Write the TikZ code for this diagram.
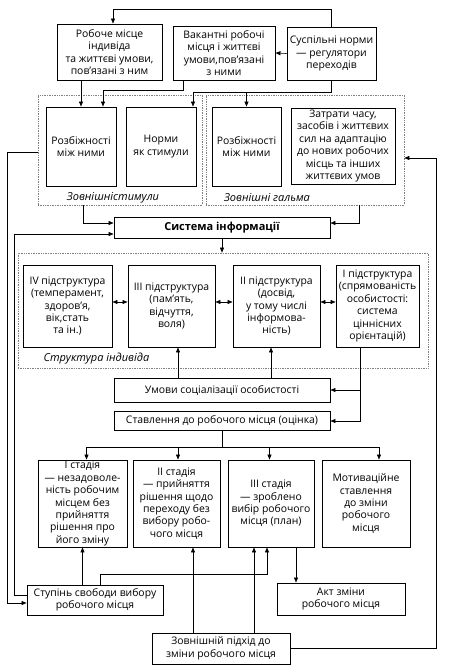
\documentclass[tikz,border=0pt]{standalone}
\usepackage{fontspec}
\setmainfont{Open Sans}
\usetikzlibrary{arrows.meta}

\begin{document}
\begin{tikzpicture}[x=1pt,y=-1pt,>={Triangle[length=5pt,width=4pt]},
                    font=\fontsize{10.4}{12.4}\selectfont,
                    blok/.style={draw,line width=0.9pt,align=center,inner sep=1pt},
                    grupa/.style={draw=black!50,densely dotted,line width=0.7pt,inner sep=0pt},
                    zv/.style={line width=0.6pt},
                    pidpys/.style={font=\fontsize{11}{12}\selectfont\itshape}]
                  \useasboundingbox (0,0) rectangle (450,665);

                  \node[grupa,minimum width=164pt,minimum height=110pt] (zstym) at (120,150) {};
                  \node[grupa,minimum width=198pt,minimum height=110pt] (zgalm) at (305,150) {};
                  \node[grupa,minimum width=410pt,minimum height=115pt] (strukt) at (223,310.5) {};
                  \node[pidpys] (zstymtxt) at (113,198) {Зовнішністимули};
                  \node[pidpys] (zgalmtxt) at (267,198) {Зовнішні гальма};
                  \node[pidpys,anchor=west] (strukttxt) at (40,359) {Структура індивіда};

                  \node[blok,minimum width=105pt,minimum height=56pt] (robmisce) at (109.5,52) {Робоче місце\\індивіда\\та життєві умови,\\пов’язані з ним};
                  \node[blok,minimum width=102pt,minimum height=54pt] (vakant) at (224,53) {Вакантні робочі\\місця і життєві\\умови,пов’язані\\з ними};
                  \node[blok,minimum width=89pt,minimum height=53pt] (norms) at (331.5,53.5) {Суспільні норми\\— регулятори\\переходів};

                  \node[blok,minimum width=70pt,minimum height=79pt] (rozb1) at (81,146.5) {Розбіжності\\між ними};
                  \node[blok,minimum width=70pt,minimum height=79pt] (normy) at (161,146.5) {Норми\\як стимули};
                  \node[blok,minimum width=69pt,minimum height=79pt] (rozb2) at (246.5,146.5) {Розбіжності\\між ними};
                  \node[blok,minimum width=104pt,minimum height=76pt] (zatraty) at (343,146) {Затрати часу,\\засобів і життєвих\\сил на адаптацію\\до нових робочих\\місць та інших\\життєвих умов};

                  \node[blok,minimum width=216pt,minimum height=21pt,font=\fontsize{11}{12.4}\selectfont\bfseries] (sysinf) at (222,227.5) {Система інформації};

                  \node[blok,minimum width=89pt,minimum height=82pt] (s4) at (67.5,306) {IV підструктура\\(темперамент,\\здоров’я,\\вік,стать\\та ін.)};
                  \node[blok,minimum width=87pt,minimum height=82pt] (s3) at (171.5,306) {III підструктура\\(пам’ять,\\відчуття,\\воля)};
                  \node[blok,minimum width=87pt,minimum height=82pt] (s2) at (276.5,306) {II підструктура\\(досвід,\\у тому числі\\інформова-\\ність)};
                  \node[blok,minimum width=83pt,minimum height=82pt] (s1) at (377.5,306) {I підструктура\\(спрямованість\\особистості:\\система\\ціннісних\\орієнтацій)};

                  \node[blok,minimum width=216pt,minimum height=24pt] (umovy) at (222,390) {Умови соціалізації особистості};
                  \node[blok,minimum width=216pt,minimum height=19pt] (stavl) at (222,421) {Ставлення до робочого місця (оцінка)};

                  \node[blok,minimum width=89pt,minimum height=87pt] (st1) at (82.5,503.5) {I стадія\\— незадоволе-\\ність робочим\\місцем без\\прийняття\\рішення про\\його зміну};
                  \node[blok,minimum width=87pt,minimum height=87pt] (st2) at (176.5,503.5) {II стадія\\— прийняття\\рішення щодо\\переходу без\\вибору робо-\\чого місця};
                  \node[blok,minimum width=86pt,minimum height=87pt] (st3) at (271,503.5) {III стадія\\— зроблено\\вибір робочого\\місця (план)};
                  \node[blok,minimum width=88pt,minimum height=87pt] (motiv) at (366,503.5) {Мотиваційне\\ставлення\\до зміни\\робочого\\місця};

                  \node[blok,minimum width=136pt,minimum height=30pt] (stupin) at (95,600) {Ступінь свободи вибору\\робочого місця};
                  \node[blok,minimum width=128pt,minimum height=32pt] (akt) at (341,599) {Акт зміни\\робочого місця};
                  \node[blok,minimum width=138pt,minimum height=31pt] (pidkhid) at (221,648.5) {Зовнішній підхід до\\зміни робочого місця};

                  \draw[zv,->] (norms.north) -- ++(0,-17) -| ([xshift=3.5pt]robmisce.north);
                  \draw[zv,->] (norms.west) -- (vakant.east);
                  \draw[zv,->] (rozb1.north |- robmisce.south) -- (rozb1.north);
                  \draw[zv,->] ([xshift=-41pt]vakant.south) -- ++(0,10) -| ([xshift=22pt]rozb1.north);
                  \draw[zv,->] (norms.south) -- ++(0,12) -| ([xshift=32pt]normy.north);
                  \draw[zv,->] ([yshift=-12pt]norms.south -| rozb2.north) -- (rozb2.north);

                  \draw[zv,->] ([xshift=-37pt]zstym.south) |- ([yshift=4.5pt]sysinf.west);
                  \draw[zv,->] ([xshift=54pt]zgalm.south) |- ([yshift=4.5pt]sysinf.east);
                  \draw[zv,->] ([yshift=5pt]stupin.west) -- ++(-12,0) |- ([yshift=-6.5pt]sysinf.west);
                  \draw[zv,->] ([yshift=-2pt]zstym.west) -- ++(-30,0) |- ([yshift=-3pt]stupin.west);
                  \draw[zv,->] (sysinf.south) -- (sysinf.south |- strukt.north);

                  \draw[zv,<->] ([yshift=4pt]s4.east) -- ([yshift=4pt]s3.west);
                  \draw[zv,<->] ([yshift=4pt]s3.east) -- ([yshift=4pt]s2.west);
                  \draw[zv,<->] ([yshift=4pt]s2.east) -- ([yshift=4pt]s1.west);

                  \draw[zv,->] ([xshift=-44pt]umovy.north) -- ([xshift=-44pt]umovy.north |- s3.south);
                  \draw[zv,->] ([xshift=49pt]umovy.north) -- ([xshift=49pt]umovy.north |- s2.south);
                  \draw[zv,->] ([xshift=-17.5pt]s1.south) |- (umovy.east);
                  \draw[zv,->] ([xshift=-17.5pt]s1.south) |- (stavl.east);

                  \draw[zv,->] (stavl.south) -- ++(0,16) -| ([xshift=4pt]st1.north);
                  \draw[zv,->] (stavl.south) -- ++(0,16) -| ([xshift=1.5pt]st2.north);
                  \draw[zv,->] (stavl.south) -- ++(0,16) -| ([xshift=-1.5pt]st3.north);
                  \draw[zv,->] (stavl.south) -- ++(0,16) -| ([xshift=13pt]motiv.north);

                  \draw[zv,->] (st1.south |- stupin.north) -- (st1.south);
                  \draw[zv,->] ([xshift=5pt]stupin.north) -- ++(0,-10) -| ([xshift=-4pt]st3.south);
                  \draw[zv,->] ([xshift=-28pt]pidkhid.north) -- ([xshift=-28pt]pidkhid.north |- st2.south);
                  \draw[zv,->] ([xshift=33pt]pidkhid.north) -- ([xshift=33pt]pidkhid.north |- st3.south);
                  \draw[zv,->] ([xshift=25pt]st3.south) -- ([xshift=25pt]st3.south |- akt.north);
                  \draw[zv,->] (pidkhid.east) -- ++(146,0) |- ([yshift=-8pt]zgalm.east);
               \end{tikzpicture}
\end{document}
